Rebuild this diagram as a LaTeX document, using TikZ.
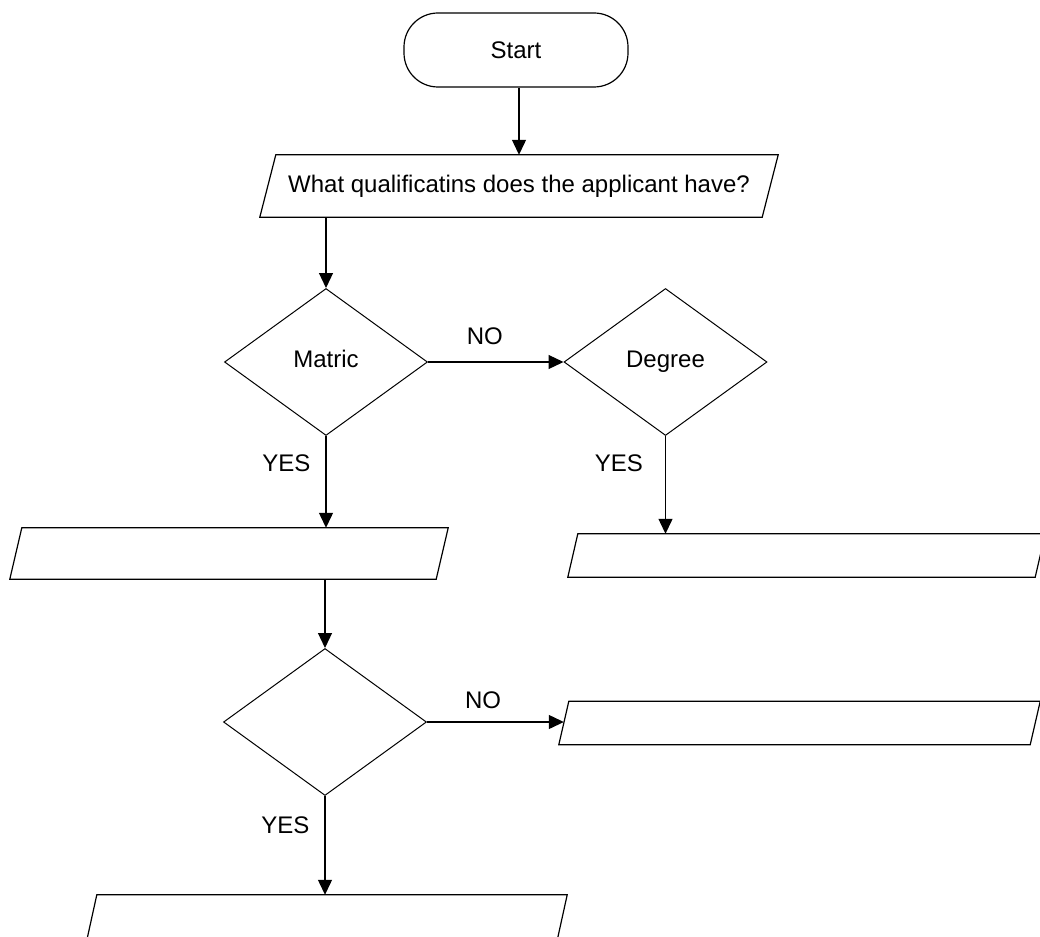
\documentclass[tikz,border=0pt]{standalone}
\usepackage{fontspec}
\setmainfont{Liberation Sans}
\usetikzlibrary{shapes.geometric,arrows.meta}
\newcommand\slantbox[2]{%
  \draw[line width=1.2pt] ([xshift=-#2]#1.south west) -- ([xshift=#2]#1.north west)
    -- ([xshift=#2]#1.north east) -- ([xshift=-#2]#1.south east) -- cycle;}
\begin{document}
\begin{tikzpicture}[x=1pt,y=-1pt,
  every node/.style={font=\fontsize{24}{28}\selectfont},
  term/.style={draw, line width=1.2pt, rounded corners=34pt, minimum width=224pt, minimum height=74pt, inner sep=0pt},
  io/.style={rectangle, inner sep=2pt},
  dec/.style={draw, line width=1pt, diamond, minimum width=203pt, minimum height=147pt, inner sep=0pt, text height=1.1em, text depth=0pt},
  conn/.style={line width=1.2pt, -{Triangle[length=15pt,width=14pt]}},
  lbl/.style={inner sep=0pt}]
\useasboundingbox (0,0) rectangle (1040,936);
\clip (0,0) rectangle (1040,936);
\node[term] (start) at (516,50) {Start};
\node[io, minimum width=502pt, minimum height=62pt] (q) at (519,186) {What qualificatins does the applicant have?};
\node[dec] (m) at (326,362) {Matric};
\node[dec] (d) at (665.5,362) {Degree};
\node[io, minimum width=426pt, minimum height=51pt] (b2) at (229,553.5) {};
\node[io, minimum width=467pt, minimum height=43pt] (b3) at (806.5,555.5) {};
\node[dec] (m3) at (325,722) {};
\node[io, minimum width=471pt, minimum height=43pt] (b4) at (799.5,723) {};
\node[io, minimum width=470pt, minimum height=45pt] (b5) at (327,917.5) {};
\slantbox{q}{8pt}
\slantbox{b2}{6pt}
\slantbox{b3}{5pt}
\slantbox{b4}{5pt}
\slantbox{b5}{5pt}
\draw[conn] (q.north |- start.south) -- (q.north);
\draw[conn] (m.north |- q.south) -- (m.north);
\draw[conn] (m.east) -- node[lbl, pos=0.42, above=17pt] (no1) {NO} (d.west);
\draw[conn] (m.south) -- node[lbl, pos=0.3, left=15pt] (yes1) {YES} (m.south |- b2.north);
\draw[conn] (d.south) -- node[lbl, pos=0.28, left=22pt] (yes2) {YES} (d.south |- b3.north);
\draw[conn] (m3.north |- b2.south) -- (m3.north);
\draw[conn] (m3.east) -- node[lbl, pos=0.41, above=13pt] (no2) {NO} (m3.east -| b4.west);
\draw[conn] (m3.south) -- node[lbl, pos=0.3, left=15pt] (yes3) {YES} (m3.south |- b5.north);
\end{tikzpicture}
\end{document}
